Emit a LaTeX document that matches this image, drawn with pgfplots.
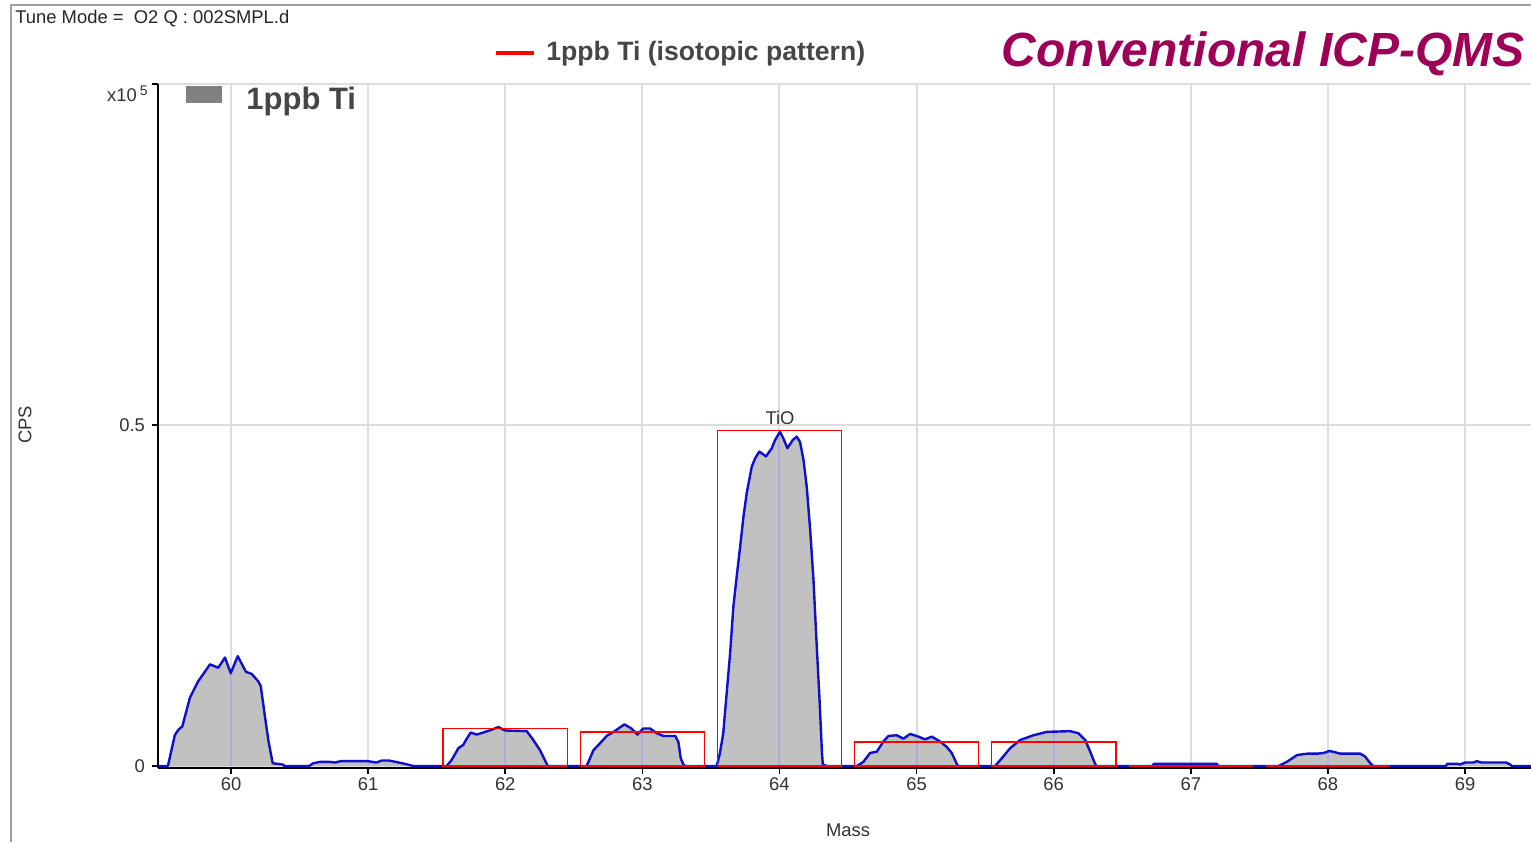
\documentclass[border=0pt]{standalone}
\usepackage{fontspec}
\setmainfont{Liberation Sans}
\usepackage{pgfplots}
\usepackage{pgfplotstable}
\pgfplotsset{compat=1.18}

\definecolor{peakfill}{RGB}{193,193,193}
\definecolor{traceblue}{RGB}{15,15,205}
\definecolor{gridgray}{RGB}{221,221,221}
\definecolor{labelgray}{RGB}{50,50,50}
\definecolor{legendgray}{RGB}{70,70,70}
\definecolor{boxgray}{RGB}{128,128,128}
\definecolor{titlecolor}{RGB}{158,0,88}
\definecolor{framegray}{RGB}{160,160,160}
\definecolor{combcolor}{RGB}{172,172,222}

\begin{document}

% mass spectrum, counts in units of 1e5 cps
\pgfplotstableread{
mass cps
59.47 0
59.54 0
59.59 0.045
59.616 0.053
59.645 0.058
59.70 0.100
59.76 0.124
59.847 0.149
59.907 0.144
59.956 0.159
59.998 0.136
60.049 0.161
60.109 0.138
60.151 0.135
60.199 0.124
60.217 0.117
60.248 0.072
60.272 0.038
60.304 0.004
60.38 0.002
60.39 0
60.57 0
60.60 0.004
60.65 0.006
60.72 0.006
60.76 0.005
60.80 0.007
61.00 0.007
61.06 0.005
61.10 0.008
61.15 0.008
61.20 0.006
61.27 0.003
61.33 0
61.573 0
61.61 0.009
61.658 0.026
61.694 0.031
61.719 0.040
61.748 0.049
61.792 0.046
61.84 0.049
61.90 0.053
61.95 0.057
61.999 0.052
62.157 0.051
62.205 0.038
62.254 0.023
62.30 0.004
62.31 0
62.594 0
62.643 0.023
62.69 0.033
62.74 0.044
62.79 0.050
62.869 0.061
62.92 0.055
62.963 0.046
63.007 0.055
63.056 0.055
63.105 0.048
63.153 0.044
63.24 0.044
63.263 0.035
63.28 0.011
63.30 0.002
63.31 0
63.542 0
63.566 0.019
63.59 0.048
63.615 0.107
63.64 0.165
63.664 0.234
63.688 0.278
63.713 0.321
63.737 0.365
63.761 0.400
63.798 0.439
63.822 0.451
63.853 0.461
63.902 0.454
63.944 0.466
63.968 0.478
64.004 0.490
64.029 0.480
64.058 0.466
64.097 0.478
64.126 0.483
64.15 0.475
64.175 0.449
64.199 0.409
64.224 0.346
64.248 0.273
64.272 0.175
64.291 0.102
64.309 0.023
64.316 0.002
64.345 0
64.564 0
64.612 0.006
64.661 0.019
64.71 0.021
64.758 0.036
64.795 0.044
64.855 0.045
64.904 0.040
64.953 0.047
65.014 0.043
65.062 0.039
65.11 0.043
65.17 0.036
65.22 0.028
65.256 0.019
65.28 0.009
65.297 0.001
65.31 0
65.573 0
65.62 0.011
65.682 0.026
65.755 0.038
65.852 0.045
65.95 0.050
66.12 0.051
66.18 0.048
66.23 0.038
66.266 0.021
66.30 0.004
66.31 0
66.72 0
66.73 0.003
67.19 0.003
67.20 0
67.64 0
67.70 0.006
67.775 0.016
67.848 0.018
67.92 0.018
67.968 0.019
68.012 0.022
68.053 0.020
68.09 0.018
68.236 0.018
68.27 0.014
68.309 0.004
68.33 0
68.86 0
68.87 0.003
68.95 0.003
68.96 0.002
69.00 0.005
69.06 0.005
69.086 0.007
69.12 0.005
69.30 0.005
69.33 0.002
69.34 0
69.481 0
}\spectrumdata

% signal at the nominal masses
\pgfplotstableread{
mass cps
60 0.136
61 0.007
62 0.052
63 0.055
64 0.490
65 0.043
66 0.051
67 0.003
68 0.022
69 0.005
}\centredata

% Ti isotopic pattern (TiO)
\pgfplotstableread{
mass cps
62 0.055
63 0.050
64 0.492
65 0.035
66 0.035
67 0
68 0
}\isodata

\begin{tikzpicture}
\path[use as bounding box] (0,0) rectangle (765.5pt,421pt);
\begin{axis}[
  at={(79pt,37pt)}, anchor=south west,
  scale only axis, width=686.5pt, height=342pt,
  xmin=59.4676, xmax=69.481, ymin=-0.003, ymax=1,
  axis x line*=bottom, axis y line*=left,
  axis line style={black, line width=0.9pt, -},
  xtick={60,61,62,63,64,65,66,67,68,69},
  ytick={0,0.5,1}, yticklabels={0,0.5,{}},
  tick align=outside, major tick length=3pt,
  tick style={black, line width=0.8pt},
  grid=major, major grid style={gridgray, line width=1pt},
  ticklabel style={font=\fontsize{9.2}{10}\selectfont, text=labelgray},
  xticklabel style={yshift=1.5pt},
  /pgf/number format/assume math mode=true,
  scaled y ticks=false,
  clip=false,
]
\addplot[draw=none, fill=peakfill] table[x=mass, y=cps] {\spectrumdata};
\addplot[ycomb, combcolor, line width=1pt, no marks] table[x=mass, y=cps] {\centredata};
\addplot[traceblue, line width=1.2pt, line join=round, no marks] table[x=mass, y=cps] {\spectrumdata};
\addplot[ybar, bar width=0.905, draw=red, line width=0.75pt, fill=none, no marks] table[x=mass, y=cps] {\isodata};
\end{axis}

\begin{scope}[x=0.5pt, y=-0.5pt, shift={(0pt,421pt)}]
  \draw[framegray, line width=0.6pt] (11,842) -- (11,5) -- (1531,5);
  \node[anchor=base west, inner sep=0, font=\fontsize{9.2}{10}\selectfont, text=black!85]
    at (15,24) {Tune Mode = \ O2 Q : 002SMPL.d};
  \node[anchor=base east, inner sep=0, font=\fontsize{9.2}{10}\selectfont, text=labelgray]
    at (148,102) {x10\,\raisebox{0.7ex}{\fontsize{7}{8}\selectfont 5}};
  \fill[boxgray] (186,86) rectangle (222,103);
  \node[anchor=base west, inner sep=0, font=\bfseries\fontsize{15.5}{17}\selectfont, text=legendgray]
    at (246,110) {1ppb Ti};
  \draw[red, line width=2pt] (496,53) -- (534,53);
  \node[anchor=base west, inner sep=0, font=\bfseries\fontsize{13.3}{15}\selectfont, text=legendgray]
    at (546,61) {1ppb Ti (isotopic pattern)};
  \node[anchor=base east, inner sep=0, font=\bfseries\itshape\fontsize{24}{28}\selectfont, text=titlecolor]
    at (1525,67) {Conventional ICP-QMS};
  \node[rotate=90, inner sep=0, font=\fontsize{9.2}{10}\selectfont, text=labelgray]
    at (25,425) {CPS};
  \node[anchor=base, inner sep=0, font=\fontsize{9.2}{10}\selectfont, text=labelgray]
    at (848,836) {Mass};
  \node[anchor=base, inner sep=0, font=\fontsize{9.2}{10}\selectfont, text=labelgray]
    at (780,424) {TiO};
\end{scope}
\end{tikzpicture}
\end{document}
